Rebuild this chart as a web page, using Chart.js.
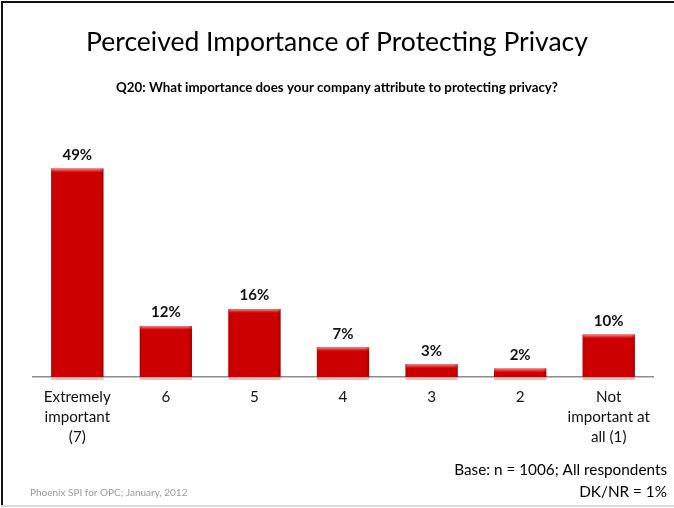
<!DOCTYPE html>
<html>
<head>
<meta charset="utf-8">
<script src="https://cdn.jsdelivr.net/npm/chart.js@4/dist/chart.umd.min.js"></script>
<style>
  html, body { margin: 0; padding: 0; background: #fff; }
  #wrap { position: relative; width: 674px; height: 508px; }
  canvas { display: block; }
</style>
</head>
<body>
<div id="wrap"><canvas id="c" width="674" height="508"></canvas></div>
<script>
// Survey answers, 7 = extremely important ... 1 = not important at all
const categories = [
  ['Extremely', 'important', '(7)'],
  '6', '5', '4', '3', '2',
  ['Not', 'important at', 'all (1)']
];
const percentages = [49, 12, 16, 7, 3, 2, 10];

const titleText = 'Perceived Importance of Protecting Privacy';
const questionText = 'Q20: What importance does your company attribute to protecting privacy?';
const baseNote = 'Base: n = 1006; All respondents';
const dkNote = 'DK/NR = 1%';
const sourceNote = 'Phoenix SPI for OPC; January, 2012';

const FONT = 'Lato, "Open Sans", sans-serif';

// Slide frame, headings and footnotes
const slideText = {
  id: 'slideText',
  afterDraw(chart) {
    const ctx = chart.ctx;
    ctx.save();
    // frame: dark left/top edges, light bottom edge
    ctx.fillStyle = '#111';
    ctx.fillRect(1, 1, 2, 506);
    ctx.fillRect(1, 1, 673, 2);
    ctx.fillStyle = '#d9d9d9';
    ctx.fillRect(1, 505, 673, 2);

    ctx.fillStyle = '#000';
    ctx.textAlign = 'center';
    ctx.textBaseline = 'middle';
    ctx.font = '26.5px ' + FONT;
    ctx.fillText(titleText, 337, 42);
    ctx.font = 'bold 13.3px ' + FONT;
    ctx.fillText(questionText, 337, 88);

    ctx.textAlign = 'right';
    ctx.font = '15.3px ' + FONT;
    ctx.fillText(baseNote, 667, 470);
    ctx.fillText(dkNote, 667, 492);

    ctx.textAlign = 'left';
    ctx.fillStyle = '#9a9a9a';
    ctx.font = '10px ' + FONT;
    ctx.fillText(sourceNote, 30, 493);
    ctx.restore();
  }
};

// Bevel highlights on each bar plus value labels above it
const barDecor = {
  id: 'barDecor',
  afterDatasetsDraw(chart) {
    const ctx = chart.ctx;
    const meta = chart.getDatasetMeta(0);
    ctx.save();
    meta.data.forEach((bar, i) => {
      const left = bar.x - bar.width / 2;
      const top = bar.y;
      const h = bar.base - bar.y;
      const w = bar.width;
      // light top edge
      const gTop = ctx.createLinearGradient(0, top, 0, top + 4);
      gTop.addColorStop(0, 'rgba(255,150,150,0.9)');
      gTop.addColorStop(1, 'rgba(255,120,120,0)');
      ctx.fillStyle = gTop;
      ctx.fillRect(left, top, w, Math.min(4, h));
      // darker sides
      const gSide = ctx.createLinearGradient(left, 0, left + w, 0);
      gSide.addColorStop(0, 'rgba(120,0,0,0.25)');
      gSide.addColorStop(0.06, 'rgba(120,0,0,0)');
      gSide.addColorStop(0.93, 'rgba(120,0,0,0)');
      gSide.addColorStop(1, 'rgba(110,0,0,0.45)');
      ctx.fillStyle = gSide;
      ctx.fillRect(left, top, w, h);
      // soft shadow below the axis
      ctx.fillStyle = 'rgba(220,110,110,0.45)';
      ctx.fillRect(left, bar.base, w, 3);

      ctx.fillStyle = '#111';
      ctx.font = 'bold 15px ' + FONT;
      ctx.textAlign = 'center';
      ctx.textBaseline = 'bottom';
      ctx.fillText(percentages[i] + '%', bar.x, top - 6);
    });
    ctx.restore();
  }
};

new Chart(document.getElementById('c'), {
  type: 'bar',
  data: {
    labels: categories,
    datasets: [{
      data: percentages,
      backgroundColor: '#cc0000',
      borderWidth: 0,
      categoryPercentage: 1,
      barPercentage: 0.59
    }]
  },
  options: {
    responsive: false,
    animation: false,
    events: [],
    layout: { padding: { top: 143, left: 33, right: 21, bottom: 0 } },
    plugins: {
      legend: { display: false },
      tooltip: { enabled: false },
      title: { display: false }
    },
    scales: {
      y: {
        display: false,
        min: 0,
        max: 55
      },
      x: {
        grid: { display: false, drawTicks: false },
        border: { display: true, color: '#8c8c8c', width: 1.5 },
        ticks: {
          color: '#111',
          font: { family: FONT, size: 15.2, lineHeight: 1.32 },
          padding: 10,
          maxRotation: 0,
          autoSkip: false
        },
        afterFit(scale) { scale.height = 131; }
      }
    }
  },
  plugins: [slideText, barDecor]
});
</script>
</body>
</html>
